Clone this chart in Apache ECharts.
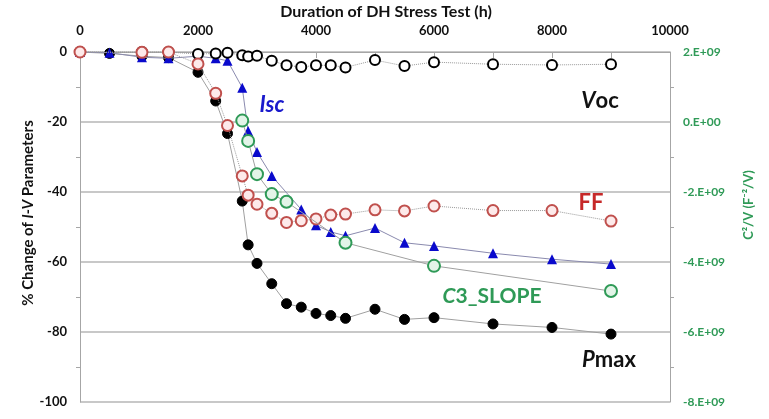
<!DOCTYPE html>
<html>
<head>
<meta charset="utf-8">
<script src="https://cdn.jsdelivr.net/npm/echarts@6/dist/echarts.min.js"></script>
<style>html,body{margin:0;padding:0;background:#fff;}#c{width:769px;height:419px;}</style>
</head>
<body>
<div id="c"></div>
<script>
// Duration of DH stress test (h)
var times = [0, 500, 1050, 1500, 2000, 2300, 2500, 2750, 2850, 3000, 3250, 3500, 3750, 4000, 4250, 4500, 5000, 5500, 6000, 7000, 8000, 9000];
// % change of I-V parameters
var voc  = [0, null, 0, 0, -0.6, -0.4, -0.2, -0.9, -1.3, -1.1, -2.5, -3.8, -4.3, -3.8, -3.8, -4.4, -2.3, -4.0, -2.9, -3.5, -3.7, -3.5];
var ff   = [0, null, -0.1, 0, -3.4, -11.8, -21, -35.4, -40.9, -43.5, -46.1, -48.7, -48.2, -47.7, -46.6, -46.3, -45.1, -45.4, -44, -45.3, -45.3, -48.3];
var isc  = [0, -0.2, -1.5, -1.8, -1.2, -1.8, -2.5, -10.2, -22.6, -28.6, -35.4, null, -45, -49.5, -51.4, -52.5, -50.3, -54.5, -55.4, -57.5, -59.2, -60.6];
var pmax = [0, -0.4, -1.2, -1.6, -5.8, -14, -23.3, -42.6, -55.1, -60.4, -66.2, -71.9, -72.9, -74.7, -75.3, -76.1, -73.5, -76.4, -75.9, -77.7, -78.7, -80.6];
// C3_SLOPE, C^2/V (F^-2/V), right axis
var c3Times = [2750, 2850, 3000, 3250, 3500, 4500, 6000, 9000];
var c3Slope = [0.04e9, -0.54e9, -1.49e9, -2.06e9, -2.28e9, -3.45e9, -4.11e9, -4.83e9];
// axis tick labels
var xTicks = [0, 2000, 4000, 6000, 8000, 10000];
var leftTicks = [0, -20, -40, -60, -80, -100];
var rightTicks = ['2.E+09', '0.E+00', '-2.E+09', '-4.E+09', '-6.E+09', '-8.E+09'];

function pairs(xs, ys) {
  var out = [];
  for (var i = 0; i < xs.length; i++) if (ys[i] !== null) out.push([xs[i], ys[i]]);
  return out;
}

var FONT = 'Lato';
var GREEN = '#2f9a57';
var chart = echarts.init(document.getElementById('c'));
chart.setOption({
  animation: false,
  textStyle: { fontFamily: FONT },
  grid: { left: 80, right: 99, top: 52, bottom: 17 },
  xAxis: {
    type: 'value', position: 'top',
    min: xTicks[0], max: xTicks[xTicks.length - 1], interval: 2000,
    axisLine: { show: true, lineStyle: { color: '#a6a6a6', width: 1 } },
    axisTick: { show: true, inside: true, length: 6, lineStyle: { color: '#a6a6a6' } },
    minorTick: { show: true, splitNumber: 2, length: 6, lineStyle: { color: '#a6a6a6' } },
    splitLine: { show: false },
    axisLabel: { margin: 15, color: '#111', fontWeight: 'bold', fontSize: 13, fontFamily: FONT,
      formatter: function (v) { return String(v); } }
  },
  yAxis: [{
    type: 'value', min: leftTicks[leftTicks.length - 1], max: leftTicks[0], interval: 20,
    axisLine: { show: true, lineStyle: { color: '#a6a6a6', width: 1 } },
    axisTick: { show: false },
    minorTick: { show: true, splitNumber: 2, length: 4, lineStyle: { color: '#a6a6a6' } },
    splitLine: { show: true, lineStyle: { color: '#c8c8c8', width: 2 } },
    axisLabel: { margin: 13, color: '#111', fontWeight: 'bold', fontSize: 13, fontFamily: FONT }
  }, {
    type: 'value', position: 'right', min: -8e9, max: 2e9, interval: 2e9,
    axisLine: { show: true, lineStyle: { color: '#a6a6a6', width: 1 } },
    axisTick: { show: false },
    minorTick: { show: true, splitNumber: 2, length: 4, lineStyle: { color: '#a6a6a6' } },
    splitLine: { show: false },
    axisLabel: {
      margin: 13, color: GREEN, fontWeight: 'bold', fontSize: 12, fontFamily: FONT,
      formatter: function (v) { var i = Math.round((2e9 - v) / 2e9); return rightTicks[i]; }
    }
  }],
  series: [{
    name: 'Pmax', type: 'line', z: 2, data: pairs(times, pmax), connectNulls: true,
    symbol: 'circle', symbolSize: 10,
    itemStyle: { color: '#000', borderColor: '#000', borderWidth: 1 },
    lineStyle: { color: '#a0a0a0', width: 1 }
  }, {
    name: 'Isc', type: 'line', z: 3, data: pairs(times, isc), connectNulls: true,
    symbol: 'triangle', symbolSize: 10,
    itemStyle: { color: '#0a0acc' },
    lineStyle: { color: '#8a8aae', width: 1 }
  }, {
    name: 'Voc', type: 'line', z: 4, data: pairs(times, voc), connectNulls: true,
    symbol: 'circle', symbolSize: 10,
    itemStyle: { color: '#fff', borderColor: '#000', borderWidth: 2 },
    lineStyle: { color: '#999', width: 1, type: 'dotted' }
  }, {
    name: 'FF', type: 'line', z: 5, data: pairs(times, ff), connectNulls: true,
    symbol: 'circle', symbolSize: 11,
    itemStyle: { color: '#fdeaea', borderColor: '#c0504d', borderWidth: 2 },
    lineStyle: { color: '#999', width: 1, type: 'dotted' }
  }, {
    name: 'C3_SLOPE', type: 'line', z: 6, yAxisIndex: 1, data: pairs(c3Times, c3Slope),
    symbol: 'circle', symbolSize: 12,
    itemStyle: { color: '#e3f4e8', borderColor: GREEN, borderWidth: 2 },
    lineStyle: { color: '#a0a0a0', width: 1 }
  }],
  graphic: [
    { type: 'text', x: 386, y: 12, style: { text: 'Duration of DH Stress Test (h)', font: 'bold 16px Lato', fill: '#111', align: 'center', verticalAlign: 'middle' } },
    { type: 'text', x: 28, y: 213, rotation: Math.PI / 2, style: {
        text: '% Change of {i|I-V} Parameters', font: 'bold 15px Lato', fill: '#111', align: 'center', verticalAlign: 'middle',
        rich: { i: { fontStyle: 'italic', fontWeight: 'bold', fontSize: 15, fontFamily: FONT, fill: '#111' } } } },
    { type: 'text', x: 749, y: 205, rotation: Math.PI / 2, style: {
        text: 'C\u00b2/V (F\u207b\u00b2/V)', font: 'bold 13px Lato', fill: GREEN, align: 'center', verticalAlign: 'middle' } },
    { type: 'text', x: 600, y: 101, style: {
        text: '{i|V}oc', font: 'bold 22px Lato', fill: '#111', align: 'center', verticalAlign: 'middle',
        rich: { i: { fontStyle: 'italic', fontWeight: 'bold', fontSize: 22, fontFamily: FONT, fill: '#111' } } } },
    { type: 'text', x: 272, y: 105, style: {
        text: 'Isc', font: 'italic bold 22px Lato', fill: '#1a1acc', align: 'center', verticalAlign: 'middle' } },
    { type: 'text', x: 591, y: 203, style: {
        text: 'FF', font: 'bold 22px Lato', fill: '#c62828', align: 'center', verticalAlign: 'middle' } },
    { type: 'text', x: 492, y: 296, style: {
        text: '{i|C}3_SLOPE', font: 'bold 21px Lato', fill: GREEN, align: 'center', verticalAlign: 'middle',
        rich: { i: { fontStyle: 'italic', fontWeight: 'bold', fontSize: 21, fontFamily: FONT, fill: GREEN } } } },
    { type: 'text', x: 609, y: 360, style: {
        text: '{i|P}max', font: 'bold 22px Lato', fill: '#111', align: 'center', verticalAlign: 'middle',
        rich: { i: { fontStyle: 'italic', fontWeight: 'bold', fontSize: 22, fontFamily: FONT, fill: '#111' } } } }
  ]
});
</script>
</body>
</html>
